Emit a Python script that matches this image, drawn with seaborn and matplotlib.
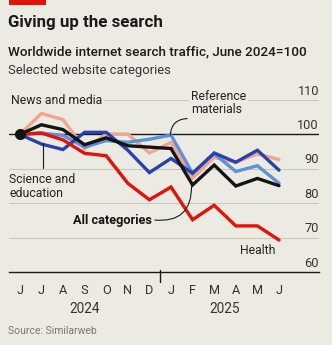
import numpy as np
import pandas as pd
import matplotlib
matplotlib.use("Agg")
import matplotlib.pyplot as plt
import matplotlib.transforms as mtransforms
import seaborn as sns

# ---------------- data ----------------
months = ["J", "J", "A", "S", "O", "N", "D", "J", "F", "M", "A", "M", "J"]
years = ["2024", "2025"]
health = [100, 100.4, 98.4, 94.5, 93.8, 85.8, 81.0, 84.7, 75.2, 79.4, 73.4, 73.4, 69.3]
all_categories = [100, 102.8, 101.4, 97.0, 99.0, 96.7, 96.3, 95.9, 85.3, 91.1, 85.0, 87.2, 85.1]
science_education = [100, 97.2, 95.6, 100.6, 100.6, 95.4, 88.9, 93.0, 88.7, 94.6, 91.9, 95.4, 89.6]
reference_materials = [100, 100.4, 99.7, 96.3, 98.2, 97.7, 98.6, 99.8, 88.7, 94.4, 89.2, 90.9, 85.8]
news_media = [100, 106.1, 104.3, 95.8, 100.1, 100.1, 94.6, 97.7, 87.3, 93.3, 91.9, 94.3, 92.7]
y_ticks = [60, 70, 80, 90, 100, 110]

series = {
    "News and media": news_media,
    "Reference materials": reference_materials,
    "Science and education": science_education,
    "Health": health,
    "All categories": all_categories,
}
colors = {
    "News and media": "#F4A58F",
    "Reference materials": "#5B92DA",
    "Science and education": "#2741AE",
    "Health": "#E3120B",
    "All categories": "#141414",
}

rows = []
for name, vals in series.items():
    for i, v in enumerate(vals):
        rows.append({"month": i, "value": v, "series": name})
df = pd.DataFrame(rows)

BG = "#ECEBE3"
sns.set_style("white")
plt.rcParams["font.family"] = ["Roboto", "DejaVu Sans"]

W, H = 332, 345
fig = plt.figure(figsize=(W / 100, H / 100), dpi=100, facecolor=BG)

def fy(py):
    return 1 - py / H

ax_left, ax_right = 9, 319
ax_bottom_px = 272
ylo, yhi = 60, 112
px_per_unit = 3.44
ax_top_px = ax_bottom_px - (yhi - ylo) * px_per_unit
ax = fig.add_axes([ax_left / W, 1 - ax_bottom_px / H, (ax_right - ax_left) / W,
                   (ax_bottom_px - ax_top_px) / H])
ax.set_facecolor(BG)

for name in series:
    sub = df[df["series"] == name]
    sns.lineplot(data=sub, x="month", y="value", color=colors[name], lw=2.4,
                 ax=ax, legend=False, zorder=3 if name != "All categories" else 4,
                 solid_joinstyle="miter")

ax.set_xlim(-0.5, -0.5 + (ax_right - ax_left) / 21.6)
ax.set_ylim(ylo, yhi)

# gridlines
for t in y_ticks:
    if t == 60:
        continue
    if t == 100:
        ax.axhline(t, color="#1a1a1a", lw=1.0, zorder=2)
    else:
        ax.axhline(t, color="#C9C8BF", lw=0.8, zorder=1)
ytrans = mtransforms.blended_transform_factory(ax.transAxes, ax.transData)
for t in y_ticks:
    ax.text(1.0, t + 0.7, str(t), transform=ytrans,
            ha="right", va="bottom", fontsize=9.2, color="#333333")

# start dot
ax.plot([0], [news_media[0]], "o", color="#141414", ms=7, zorder=6)

for s in ["top", "right", "left"]:
    ax.spines[s].set_visible(False)
ax.spines["bottom"].set_color("#1a1a1a")
ax.spines["bottom"].set_linewidth(1.0)
ax.set_yticks([])
ax.set_xlabel("")
ax.set_ylabel("")

bounds = np.arange(-0.5, 13, 1.0)
ax.set_xticks(bounds)
ax.set_xticklabels([])
ax.tick_params(axis="x", which="major", length=5, width=1.0, color="#1a1a1a", direction="out")
ax.set_xticks(np.arange(len(months)), minor=True)
ax.set_xticklabels(months, minor=True)
ax.tick_params(axis="x", which="minor", length=0, pad=9, labelsize=9.2, labelcolor="#333333")
# longer year tick
ax.plot([6.5, 6.5], [ylo + 0.6, ylo - 2.8], color="#1a1a1a", lw=1.0, clip_on=False, zorder=5)

# year labels
ax.text(3, ylo - 10.8, years[0], ha="center", va="center", fontsize=9.8, color="#333333")
ax.text(9.5, ylo - 10.8, years[1], ha="center", va="center", fontsize=9.8, color="#333333")

# annotations
box = dict(facecolor=BG, edgecolor="none", pad=1.5)
ax.text(-0.43, 109.9, "News and media", ha="left", va="center", fontsize=8.8,
        color="#222222", bbox=box, zorder=5)
ax.text(7.92, 109.1, "Reference\nmaterials", ha="left", va="center", fontsize=8.8,
        color="#222222", bbox=box, zorder=5, linespacing=1.05)
ax.annotate("", xy=(6.97, 99.8), xytext=(7.75, 104.6),
            arrowprops=dict(arrowstyle="-", color="#1a1a1a", lw=0.8,
                            connectionstyle="arc3,rad=0.45", shrinkA=0, shrinkB=0), zorder=5)
ax.text(-0.5, 85.0, "Science and\neducation", ha="left", va="center", fontsize=8.8,
        color="#222222", linespacing=1.1)
ax.plot([1.07, 1.07], [90.3, 97.4], color="#1a1a1a", lw=0.8, zorder=5)
ax.text(6.1, 75.1, "All categories", ha="right", va="center", fontsize=9.2,
        fontweight="bold", color="#141414")
ax.annotate("", xy=(7.95, 85.0), xytext=(6.25, 75.1),
            arrowprops=dict(arrowstyle="-", color="#1a1a1a", lw=0.8,
                            connectionstyle="arc3,rad=0.55", shrinkA=0, shrinkB=0), zorder=5)
ax.text(11.0, 66.2, "Health", ha="center", va="center", fontsize=8.8, color="#222222")

# header
fig.patches.append(matplotlib.patches.Rectangle((9 / W, fy(4.5)), 37 / W, 4.5 / H,
                   transform=fig.transFigure, facecolor="#E3120B", edgecolor="none"))
fig.text(8 / W, fy(27.5), "Giving up the search", ha="left", va="baseline",
         fontsize=12.2, fontweight="bold", color="#1a1a1a")
fig.text(8 / W, fy(55), "Worldwide internet search traffic, June 2024=100", ha="left",
         va="baseline", fontsize=9.7, fontweight="medium", color="#1a1a1a")
fig.text(8 / W, fy(74), "Selected website categories", ha="left", va="baseline",
         fontsize=9.4, color="#333333")
fig.text(8 / W, fy(334), "Source: Similarweb", ha="left", va="baseline",
         fontsize=7.5, color="#777777")

fig.savefig("out.png", dpi=100, facecolor=BG)
